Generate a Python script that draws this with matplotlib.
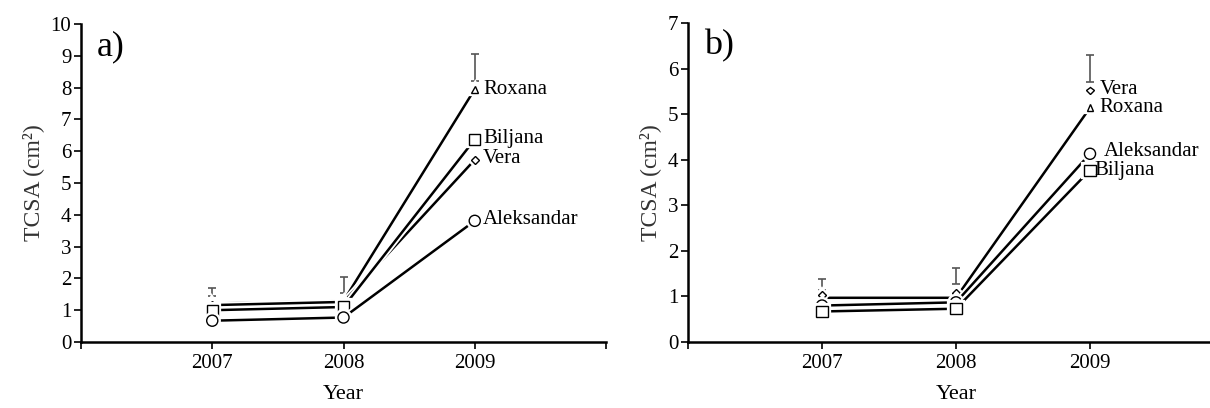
import numpy as np
import matplotlib
matplotlib.use("Agg")
import matplotlib.pyplot as plt
import matplotlib.patheffects as pe

plt.rcParams['font.family'] = ['Liberation Serif', 'DejaVu Serif']

years = [2007, 2008, 2009]
cultivars = ['Roxana', 'Biljana', 'Vera', 'Aleksandar']
markers = {'Roxana': '^', 'Biljana': 's', 'Vera': 'D', 'Aleksandar': 'o'}
msizes = {'Roxana': 5, 'Biljana': 8, 'Vera': 4, 'Aleksandar': 8}

# panel a)
tcsa_a = {
    'Roxana': [1.21, 1.29, 7.95],
    'Vera': [1.16, 1.26, 5.73],
    'Biljana': [1.00, 1.10, 6.37],
    'Aleksandar': [0.67, 0.77, 3.81],
}
err_lo_a = [1.46, 1.55, 8.20]
err_hi_a = [1.70, 2.05, 9.06]

# panel b)
tcsa_b = {
    'Roxana': [0.97, 0.97, 5.14],
    'Vera': [1.04, 1.08, 5.52],
    'Aleksandar': [0.80, 0.87, 4.13],
    'Biljana': [0.67, 0.73, 3.77],
}
err_lo_b = [1.15, 1.27, 5.70]
err_hi_b = [1.38, 1.62, 6.29]
lines_b = ['Roxana', 'Aleksandar', 'Biljana']  # Vera only shown as points in b)

labels_a = {'Roxana': (6, 0), 'Biljana': (6, 1), 'Vera': (6, 1), 'Aleksandar': (6, 1)}
labels_b = {'Vera': (7, 1), 'Roxana': (7, 0), 'Aleksandar': (10, 2), 'Biljana': (3, 0)}


def draw_panel(ax, data, err_lo, err_hi, ymax, tag, label_offsets, with_line):
    halo = [pe.Stroke(linewidth=4.5, foreground='white'), pe.Normal()]
    for name, vals in data.items():
        ls = '-' if name in with_line else 'none'
        ax.plot(years, vals, color='black', lw=1.8, ls=ls, marker=markers[name],
                ms=msizes[name], mfc='white', mec='black', mew=1.0,
                path_effects=halo, zorder=3)
        dx, dy = label_offsets[name]
        ax.annotate(name, (years[-1], vals[-1]), xytext=(dx, dy),
                    textcoords='offset points', ha='left', va='center',
                    fontsize=15)
    mid = [(lo + hi) / 2 for lo, hi in zip(err_lo, err_hi)]
    half = [(hi - lo) / 2 for lo, hi in zip(err_lo, err_hi)]
    ax.errorbar(years, mid, yerr=half, fmt='none', ecolor='#555555',
                elinewidth=1.2, capsize=3, capthick=1.2, zorder=2)

    ax.set_xlim(2006, 2010)
    ax.set_ylim(0, ymax)
    ax.set_xticks([2006, 2007, 2008, 2009, 2010])
    ax.set_xticklabels(['', '2007', '2008', '2009', ''], fontsize=15)
    ax.set_yticks(range(0, ymax + 1))
    ax.tick_params(axis='y', labelsize=15, length=5, width=1.2, pad=2)
    ax.tick_params(axis='x', length=5, width=1.2, pad=4)
    for s in ['top', 'right']:
        ax.spines[s].set_visible(False)
    for s in ['left', 'bottom']:
        ax.spines[s].set_linewidth(1.8)
    ax.set_xlabel('Year', fontsize=16, labelpad=8)
    ax.set_ylabel('TCSA (cm²)', fontsize=17, color='#333333', labelpad=5)
    ax.text(0.03, 0.98, tag, transform=ax.transAxes, fontsize=26,
            ha='left', va='top')


fig = plt.figure(figsize=(12.1, 4.08), dpi=100)
ax_a = fig.add_axes([81 / 1210, 66 / 408, 525 / 1210, 318 / 408])
ax_b = fig.add_axes([688 / 1210, 66 / 408, 536 / 1210, 319 / 408])

draw_panel(ax_a, tcsa_a, err_lo_a, err_hi_a, 10, 'a)', labels_a, cultivars)
draw_panel(ax_b, tcsa_b, err_lo_b, err_hi_b, 7, 'b)', labels_b, lines_b)

fig.savefig('out.png', dpi=100)
